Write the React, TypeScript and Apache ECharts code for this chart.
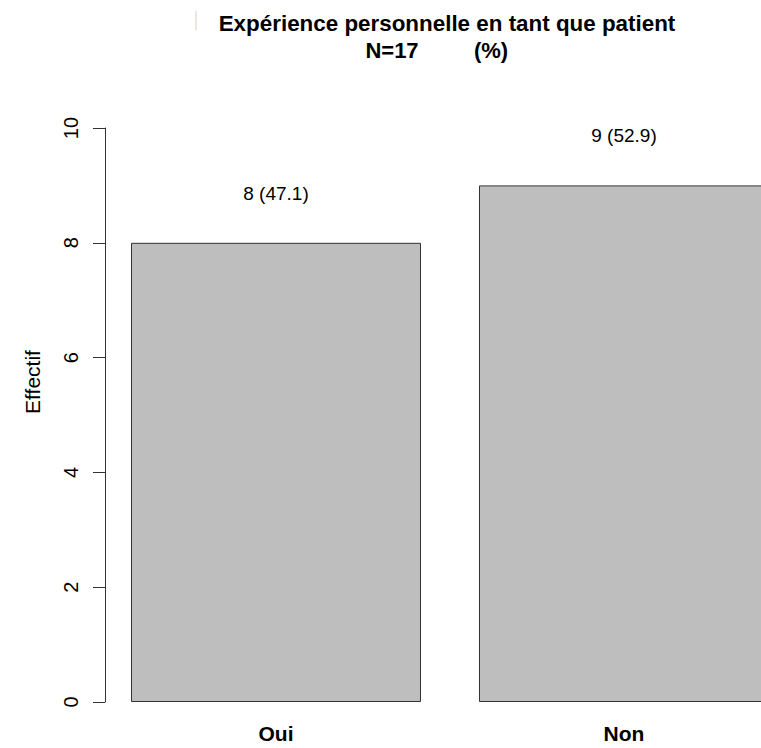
import React, { useEffect, useRef } from "react";
import * as echarts from "echarts";

const categories = ["Oui", "Non"];
const counts = [8, 9];
const yTicks = [0, 2, 4, 6, 8, 10];
const titleLine1 = "Expérience personnelle en tant que patient";
const titleN = "N=17";
const titlePct = "(%)";
const yName = "Effectif";

export default function App() {
  const ref = useRef<HTMLDivElement>(null);
  useEffect(() => {
    if (!ref.current) return;
    const chart = echarts.init(ref.current, null, { renderer: "svg" });
    const total = counts.reduce((a, b) => a + b, 0);
    const font = "Liberation Sans, Arial, Helvetica, sans-serif";
    chart.setOption({
      animation: false,
      backgroundColor: "#ffffff",
      title: [
        {
          text: titleLine1,
          left: 442,
          top: 7,
          textAlign: "center",
          textStyle: { fontFamily: font, fontSize: 22.4, fontWeight: "bold", color: "#000" },
        },
        {
          text: titleN,
          left: 387,
          top: 34,
          textAlign: "center",
          textStyle: { fontFamily: font, fontSize: 22, fontWeight: "bold", color: "#000" },
        },
        {
          text: titlePct,
          left: 486,
          top: 34,
          textAlign: "center",
          textStyle: { fontFamily: font, fontSize: 22, fontWeight: "bold", color: "#000" },
        },
      ],
      graphic: [
        {
          type: "line",
          shape: { x1: 196, y1: 11, x2: 196, y2: 30 },
          style: { stroke: "#dccfb8", lineWidth: 1 },
        },
        {
          type: "text",
          x: 32,
          y: 382,
          rotation: Math.PI / 2,
          style: {
            text: yName,
            font: `21px ${font}`,
            fill: "#000",
            align: "center",
            verticalAlign: "middle",
          },
        },
      ],
      grid: { left: 102, right: 2, top: 128, bottom: 46, containLabel: false },
      xAxis: {
        type: "category",
        data: categories,
        axisLine: { show: false },
        axisTick: { show: false },
        axisLabel: {
          fontFamily: font,
          fontSize: 21,
          fontWeight: "bold",
          color: "#000",
          margin: 21,
        },
      },
      yAxis: {
        type: "value",
        min: 0,
        max: 10,
        interval: 2,
        offset: -3,
        splitLine: { show: false },
        axisLine: { show: true, lineStyle: { color: "#333", width: 1 } },
        axisTick: { show: true, inside: false, length: 12, lineStyle: { color: "#333", width: 1 } },
        axisLabel: {
          rotate: 90,
          margin: 24,
          fontFamily: font,
          fontSize: 20,
          color: "#000",
          formatter: (v: number) => (yTicks.includes(v) ? String(v) : ""),
        },
      },
      series: [
        {
          type: "bar",
          data: counts,
          barWidth: 290,
          itemStyle: { color: "#bebebe", borderColor: "#333", borderWidth: 1 },
          label: {
            show: true,
            position: "top",
            distance: 40,
            fontFamily: font,
            fontSize: 19,
            color: "#000",
            formatter: (p: any) => `${p.value} (${((p.value / total) * 100).toFixed(1)})`,
          },
        },
      ],
    });
    return () => chart.dispose();
  }, []);
  return (
    <div style={{ position: "fixed", left: 0, top: 0, width: 761, height: 748, overflow: "hidden", background: "#fff" }}>
      <div ref={ref} style={{ width: 800, height: 748 }} />
    </div>
  );
}
